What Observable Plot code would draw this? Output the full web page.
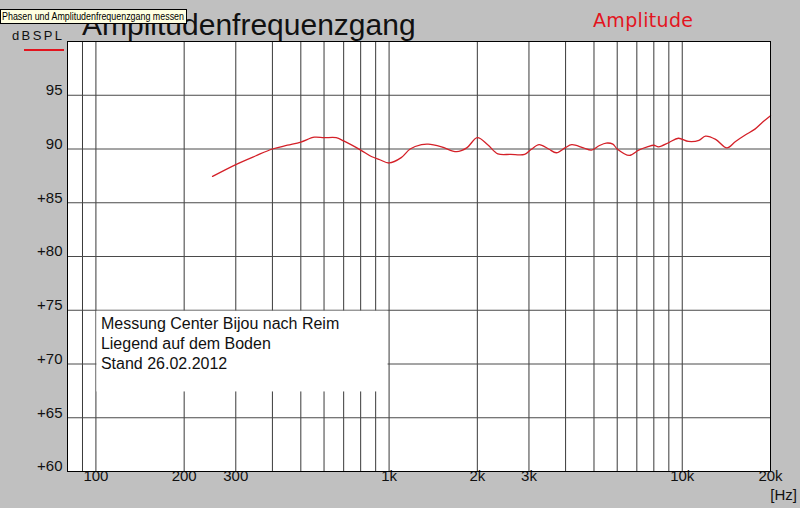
<!DOCTYPE html>
<html>
<head>
<meta charset="utf-8">
<script src="https://cdn.jsdelivr.net/npm/d3@7"></script>
<script src="https://cdn.jsdelivr.net/npm/@observablehq/plot@0.6"></script>
<style>
  body { margin: 0; background: #c0c0c0; }
  #chart { width: 800px; height: 508px; }
</style>
</head>
<body>
<div id="chart"></div>
<script>
// Frequenzgang
const freq = [250, 300, 350, 400, 450, 500, 556, 600, 660, 700, 800, 870, 930, 1000, 1100, 1180, 1290, 1360,
  1510, 1700, 1840, 2000, 2170, 2350, 2600, 2900, 3050, 3250, 3500, 3720, 3980, 4200, 4600, 4900, 5200, 5500,
  5800, 6000, 6600, 7100, 7600, 8000, 8300, 9000, 9700, 10500, 11400, 12000, 13000, 14200, 15200, 16400,
  17700, 18900, 20000]
const spl = [87.45, 88.55, 89.35, 90.0, 90.35, 90.65, 91.1, 91.05, 91.05, 90.75, 89.9, 89.3, 89.0, 88.7, 89.2, 90.0, 90.4, 90.45,
  90.2, 89.75, 90.1, 91.05, 90.4, 89.55, 89.5, 89.5, 89.95, 90.4, 90.0, 89.65, 90.1, 90.4, 90.1, 89.9, 90.3, 90.55,
  90.45, 90.0, 89.4, 89.9, 90.2, 90.35, 90.2, 90.6, 91.0, 90.7, 90.8, 91.2, 90.9, 90.1, 90.7, 91.3,
  91.85, 92.55, 93.1]

const gridX = [90, 100, 200, 300, 400, 500, 600, 700, 800, 900, 1000, 2000, 3000, 4000, 5000, 6000, 7000, 8000, 9000, 10000]
const gridY = [65, 70, 75, 80, 85, 90, 95]
const xTicks = [100, 200, 300, 1000, 2000, 3000, 10000, 20000]
const xTickLabels = ["100", "200", "300", "1k", "2k", "3k", "10k", "20k"]
const yTicks = [60, 65, 70, 75, 80, 85, 90, 95]
const noteLines = ["Messung Center Bijou nach Reim", "Liegend auf dem Boden", "Stand 26.02.2012"]

const data = freq.map((f, i) => ({f: f, db: spl[i]}))
const xLabel = new Map(xTicks.map((t, i) => [t, xTickLabels[i]]))

let chart = Plot.plot({
  width: 800,
  height: 508,
  marginLeft: 67,
  marginRight: 30,
  marginTop: 41,
  marginBottom: 37,
  style: {background: "#c0c0c0", fontFamily: "Liberation Sans, Arial, sans-serif"},
  x: {type: "log", domain: [80, 20000], axis: null},
  y: {domain: [60, 100]},
  marks: [
    Plot.frame({fill: "white", stroke: null}),
    Plot.ruleX(gridX, {stroke: "#3a3a3a", strokeWidth: 1}),
    Plot.ruleY(gridY, {stroke: "#4a4a4a", strokeWidth: 1}),
    // Notizfeld
    Plot.rect([0], {x1: 100, x2: 1000, y1: 67.4, y2: 75, fill: "white", insetLeft: 1, insetRight: 1, insetTop: 1}),
    Plot.text([noteLines.join("\n")], {x: 104, y: 74.5, text: d => d, textAnchor: "start", lineAnchor: "top",
      lineHeight: 1.22, fontSize: 16, fill: "#111"}),
    Plot.line(data, {x: "f", y: "db", stroke: "#d42028", strokeWidth: 1.3, curve: "catmull-rom"}),
    Plot.text(xTicks, {x: d => d, frameAnchor: "bottom", dy: 9, text: d => xLabel.get(d), fontSize: 15, fill: "#111"}),
    Plot.axisY(yTicks, {tickFormat: d => d >= 90 ? `${d}` : `+${d}`, tickSize: 0, tickPadding: 5, dy: -5, fontSize: 15, fill: "#111", label: null}),
    Plot.frame({stroke: "black"})
  ]
})

const svg = d3.select(chart)
const sans = "Liberation Sans, Arial, sans-serif"

svg.append("text").attr("x", 82).attr("y", 35).attr("text-anchor", "start").attr("font-family", sans).attr("font-size", 30)
  .attr("fill", "#111").text("Amplitudenfrequenzgang")

svg.append("rect").attr("x", 0.5).attr("y", 9.5).attr("width", 186).attr("height", 14)
  .attr("fill", "#ffffe1").attr("stroke", "black")
svg.append("text").attr("x", 2).attr("y", 20).attr("text-anchor", "start").attr("font-family", sans).attr("font-size", 11)
  .attr("textLength", 182).attr("lengthAdjust", "spacingAndGlyphs").attr("fill", "black")
  .text("Phasen und Amplitudenfrequenzgang messen")

svg.append("text").attr("x", 593).attr("y", 27).attr("text-anchor", "start").attr("font-family", "DejaVu Sans, sans-serif").attr("font-size", 19)
  .attr("textLength", 100).attr("fill", "#e3141e").text("Amplitude")

svg.append("text").attr("x", 12).attr("y", 40).attr("text-anchor", "start").attr("font-family", sans).attr("font-size", 13)
  .attr("textLength", 50).attr("fill", "#111").text("dBSPL")
svg.append("line").attr("x1", 24).attr("x2", 64).attr("y1", 50).attr("y2", 50)
  .attr("stroke", "#e3141e").attr("stroke-width", 2)

svg.append("text").attr("x", 797).attr("y", 500).attr("text-anchor", "end").attr("font-family", sans)
  .attr("font-size", 15).attr("fill", "#111").text("[Hz]")

d3.select('#chart').append(() => chart)
</script>
</body>
</html>
